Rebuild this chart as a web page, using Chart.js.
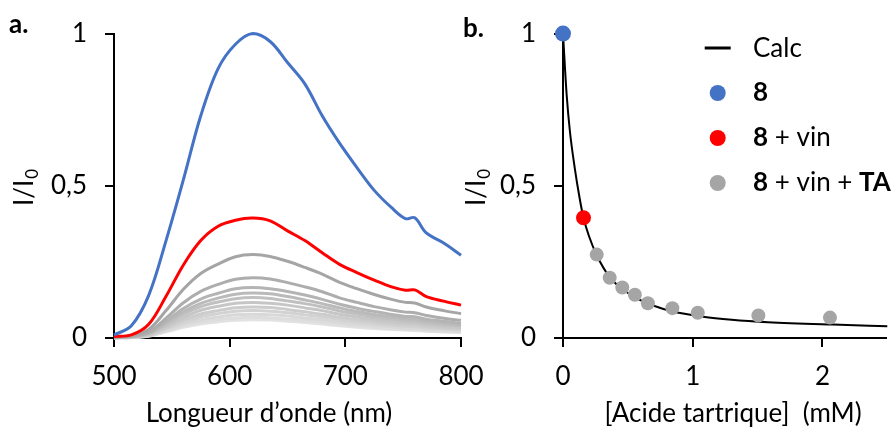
<!DOCTYPE html>
<html>
<head>
<meta charset="utf-8">
<script src="https://cdn.jsdelivr.net/npm/chart.js@4.4.1/dist/chart.umd.min.js"></script>
<style>
  html, body { margin: 0; padding: 0; background: #fff; }
  #wrap { position: relative; width: 894px; height: 430px; overflow: hidden; }
  #chartA { position: absolute; left: 0; top: 0; }
  #chartB { position: absolute; left: 440px; top: 0; }
</style>
</head>
<body>
<div id="wrap">
  <canvas id="chartA" width="500" height="430"></canvas>
  <canvas id="chartB" width="454" height="430"></canvas>
</div>
<script>
// --- panel a : emission spectra ---
const wavelengths = [500, 515, 530, 545, 560, 575, 590, 605, 620, 635, 650, 665, 680, 695, 710, 725, 740, 752, 760, 770, 785, 800];
const spectrum8 = [0.01, 0.04, 0.14, 0.32, 0.52, 0.73, 0.885, 0.965, 1.0, 0.974, 0.905, 0.835, 0.73, 0.64, 0.56, 0.485, 0.428, 0.392, 0.395, 0.345, 0.312, 0.272];
const spectrumVin = [0.005, 0.01, 0.045, 0.137, 0.24, 0.32, 0.367, 0.387, 0.394, 0.385, 0.352, 0.32, 0.28, 0.242, 0.215, 0.19, 0.168, 0.157, 0.158, 0.136, 0.121, 0.108];
const spectraTA = [
  [0.003, 0.008, 0.028, 0.09, 0.16, 0.212, 0.243, 0.267, 0.274, 0.268, 0.252, 0.232, 0.21, 0.183, 0.162, 0.143, 0.127, 0.117, 0.115, 0.102, 0.09, 0.08],
  [0.002, 0.006, 0.02, 0.065, 0.116, 0.153, 0.176, 0.193, 0.198, 0.194, 0.182, 0.168, 0.152, 0.132, 0.117, 0.103, 0.092, 0.085, 0.083, 0.074, 0.065, 0.058],
  [0.002, 0.005, 0.017, 0.055, 0.097, 0.128, 0.147, 0.162, 0.166, 0.162, 0.153, 0.141, 0.127, 0.111, 0.098, 0.087, 0.077, 0.071, 0.07, 0.062, 0.055, 0.048],
  [0.002, 0.004, 0.015, 0.049, 0.086, 0.114, 0.131, 0.144, 0.148, 0.145, 0.136, 0.125, 0.113, 0.099, 0.087, 0.077, 0.069, 0.063, 0.062, 0.055, 0.049, 0.043],
  [0.001, 0.004, 0.014, 0.044, 0.078, 0.103, 0.118, 0.129, 0.133, 0.13, 0.122, 0.113, 0.102, 0.089, 0.079, 0.069, 0.062, 0.057, 0.056, 0.049, 0.044, 0.039],
  [0.001, 0.003, 0.012, 0.038, 0.068, 0.091, 0.104, 0.114, 0.117, 0.114, 0.108, 0.099, 0.09, 0.078, 0.069, 0.061, 0.054, 0.05, 0.049, 0.044, 0.038, 0.034],
  [0.001, 0.003, 0.01, 0.033, 0.06, 0.079, 0.09, 0.099, 0.102, 0.1, 0.094, 0.086, 0.078, 0.068, 0.06, 0.053, 0.047, 0.044, 0.043, 0.038, 0.033, 0.03],
  [0.001, 0.003, 0.009, 0.03, 0.052, 0.07, 0.08, 0.088, 0.09, 0.088, 0.083, 0.076, 0.069, 0.06, 0.053, 0.047, 0.042, 0.038, 0.038, 0.033, 0.03, 0.026],
  [0.001, 0.002, 0.008, 0.026, 0.046, 0.06, 0.069, 0.076, 0.078, 0.076, 0.072, 0.066, 0.06, 0.052, 0.046, 0.041, 0.036, 0.033, 0.033, 0.029, 0.026, 0.023],
  [0.001, 0.002, 0.007, 0.022, 0.04, 0.053, 0.06, 0.066, 0.068, 0.066, 0.062, 0.058, 0.052, 0.045, 0.04, 0.035, 0.031, 0.029, 0.029, 0.025, 0.022, 0.02],
  [0.001, 0.002, 0.006, 0.02, 0.035, 0.046, 0.053, 0.058, 0.06, 0.059, 0.055, 0.051, 0.046, 0.04, 0.035, 0.031, 0.028, 0.026, 0.025, 0.022, 0.02, 0.018]
];
const grayShades = ['#a5a5a5', '#adadad', '#b4b4b4', '#bababa', '#c0c0c0', '#c6c6c6', '#cccccc', '#d2d2d2', '#d8d8d8', '#dddddd', '#e2e2e2'];

// --- panel b : quenching vs tartaric acid ---
const calcConc = [0, 0.028, 0.053, 0.09, 0.128, 0.158, 0.2, 0.26, 0.36, 0.46, 0.58, 0.7, 0.83, 1.08, 1.3, 1.58, 2.08, 2.5];
const calcRatio = [1.0, 0.8, 0.68, 0.56, 0.46, 0.395, 0.335, 0.272, 0.2, 0.16, 0.128, 0.106, 0.089, 0.07, 0.06, 0.052, 0.044, 0.039];
const conc8 = [0];
const ratio8 = [1.0];
const concVin = [0.158];
const ratioVin = [0.395];
const concTA = [0.26, 0.36, 0.457, 0.554, 0.654, 0.843, 1.039, 1.506, 2.058];
const ratioTA = [0.274, 0.198, 0.166, 0.142, 0.114, 0.098, 0.083, 0.074, 0.067];

const FONT = "Lato, 'Open Sans', sans-serif";
const FS = 26;
const BLUE = '#4472c4';
const RED = '#ff0000';
const GRAY = '#a5a5a5';

Chart.defaults.font.family = FONT;
Chart.defaults.font.size = FS;
Chart.defaults.color = '#000';

const toXY = (xs, ys) => xs.map((x, i) => ({ x: x, y: ys[i] }));
const comma = v => String(v).replace('.', ',');

function axisStyle() {
  return {
    grid: { display: true, drawOnChartArea: false, drawTicks: true, tickLength: 9, color: '#000', lineWidth: 2 },
    border: { display: true, color: '#000', width: 2 }
  };
}

function drawRuns(ctx, x, y, runs, size) {
  let cx = x;
  runs.forEach(r => {
    ctx.font = (r.b ? 'bold ' : '') + size + 'px ' + FONT;
    ctx.fillText(r.t, cx, y);
    cx += ctx.measureText(r.t).width;
  });
}

function drawYTitle(ctx, x, y) {
  ctx.save();
  ctx.textAlign = 'left';
  ctx.translate(x, y);
  ctx.rotate(-Math.PI / 2);
  ctx.font = FS + 'px ' + FONT;
  const w1 = ctx.measureText('I/I').width;
  ctx.font = '17px ' + FONT;
  const w2 = ctx.measureText('0').width;
  const start = -(w1 + w2) / 2;
  ctx.font = FS + 'px ' + FONT;
  ctx.fillText('I/I', start, 0);
  ctx.font = '17px ' + FONT;
  ctx.fillText('0', start + w1 + 1, 5);
  ctx.restore();
}

// titles and panel letter for a
const textA = {
  id: 'textA',
  afterDraw(chart) {
    const ctx = chart.ctx;
    ctx.save();
    ctx.fillStyle = '#000';
    ctx.textBaseline = 'alphabetic';
    ctx.textAlign = 'left';
    ctx.font = 'bold 26px ' + FONT;
    ctx.fillText('a.', 9, 33);
    ctx.textAlign = 'center';
    ctx.font = FS + 'px ' + FONT;
    ctx.fillText('Longueur d\u2019onde (nm)', 269, 422);
    drawYTitle(ctx, 33, 188);
    ctx.restore();
  }
};

const datasetsA = spectraTA.map((s, i) => ({
  data: toXY(wavelengths, s),
  borderColor: grayShades[i],
  borderWidth: 3,
  order: 20 + i
}));
datasetsA.push({ data: toXY(wavelengths, spectrumVin), borderColor: RED, borderWidth: 3, order: 2 });
datasetsA.push({ data: toXY(wavelengths, spectrum8), borderColor: BLUE, borderWidth: 3, order: 1 });

new Chart(document.getElementById('chartA'), {
  type: 'line',
  data: { datasets: datasetsA },
  options: {
    responsive: false,
    animation: false,
    layout: { padding: { top: 32, right: 39, left: 0, bottom: 0 } },
    plugins: { legend: { display: false }, tooltip: { enabled: false } },
    elements: {
      point: { radius: 0 },
      line: { tension: 0.35, fill: false }
    },
    datasets: { line: { clip: false } },
    scales: {
      x: Object.assign(axisStyle(), {
        type: 'linear', min: 500, max: 800,
        ticks: { stepSize: 100, padding: 14, callback: v => String(v) },
        afterFit: s => { s.height = 92; }
      }),
      y: Object.assign(axisStyle(), {
        min: 0, max: 1,
        ticks: { stepSize: 0.5, padding: 18, callback: comma },
        afterFit: s => { s.width = 114; }
      })
    }
  },
  plugins: [textA]
});

// titles, panel letter and legend for b
const textB = {
  id: 'textB',
  afterDraw(chart) {
    const ctx = chart.ctx;
    const ds = chart.data.datasets;
    ctx.save();
    ctx.fillStyle = '#000';
    ctx.textBaseline = 'alphabetic';
    ctx.textAlign = 'left';
    ctx.font = 'bold 26px ' + FONT;
    ctx.fillText('b.', 23, 37);
    ctx.textAlign = 'center';
    ctx.font = FS + 'px ' + FONT;
    ctx.fillText('[Acide tartrique]  (mM)', 293, 422);
    drawYTitle(ctx, 45, 188);

    // legend
    ctx.textAlign = 'left';
    const mx = 277.7, tx = 313;
    ctx.strokeStyle = ds[0].borderColor;
    ctx.lineWidth = 3;
    ctx.beginPath();
    ctx.moveTo(mx - 13, 48);
    ctx.lineTo(mx + 13, 48);
    ctx.stroke();
    drawRuns(ctx, tx, 57, [{ t: 'Calc' }], FS);
    const rows = [
      { c: ds[3].backgroundColor, y: 93, runs: [{ t: '8', b: true }] },
      { c: ds[2].backgroundColor, y: 138, runs: [{ t: '8', b: true }, { t: ' + vin' }] },
      { c: ds[1].backgroundColor, y: 183, runs: [{ t: '8', b: true }, { t: ' + vin + ' }, { t: 'TA', b: true }] }
    ];
    rows.forEach(r => {
      ctx.fillStyle = r.c;
      ctx.beginPath();
      ctx.arc(mx, r.y, 8, 0, Math.PI * 2);
      ctx.fill();
      ctx.fillStyle = '#000';
      drawRuns(ctx, tx, r.y + 8, r.runs, FS);
    });
    ctx.restore();
  }
};

new Chart(document.getElementById('chartB'), {
  type: 'line',
  data: {
    datasets: [
      { label: 'Calc', data: toXY(calcConc, calcRatio), borderColor: '#000', borderWidth: 2,
        pointRadius: 0, cubicInterpolationMode: 'monotone', order: 10 },
      { label: '8 + vin + TA', data: toXY(concTA, ratioTA), showLine: false,
        pointRadius: 7, backgroundColor: GRAY, borderColor: GRAY, borderWidth: 0, order: 3 },
      { label: '8 + vin', data: toXY(concVin, ratioVin), showLine: false,
        pointRadius: 7.5, backgroundColor: RED, borderColor: RED, borderWidth: 0, order: 2 },
      { label: '8', data: toXY(conc8, ratio8), showLine: false,
        pointRadius: 8, backgroundColor: BLUE, borderColor: BLUE, borderWidth: 0, order: 1 }
    ]
  },
  options: {
    responsive: false,
    animation: false,
    layout: { padding: { top: 29, right: 0, left: 0, bottom: 0 } },
    plugins: { legend: { display: false }, tooltip: { enabled: false } },
    datasets: { line: { clip: false } },
    scales: {
      x: Object.assign(axisStyle(), {
        type: 'linear', min: 0, max: 2.49,
        ticks: { stepSize: 1, padding: 14, includeBounds: false, callback: v => String(v) },
        afterFit: s => { s.height = 92; }
      }),
      y: Object.assign(axisStyle(), {
        min: 0, max: 1,
        ticks: { stepSize: 0.5, padding: 18, callback: comma },
        afterFit: s => { s.width = 123; }
      })
    }
  },
  plugins: [textB]
});
</script>
</body>
</html>
